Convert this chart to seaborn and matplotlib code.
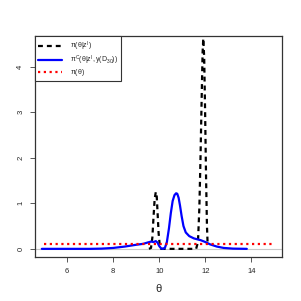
import matplotlib
matplotlib.use("Agg")
import matplotlib.pyplot as plt
import seaborn as sns

# posterior pi(theta | z^I)
theta_post = [9.55, 9.64, 9.70, 9.75, 9.80, 9.85, 9.89, 9.93, 9.97, 10.02, 10.08,
              11.60, 11.68, 11.74, 11.79, 11.84, 11.88, 11.91, 11.95, 11.99, 12.03, 12.07, 12.10]
dens_post = [0.0, 0.02, 0.25, 0.70, 1.10, 1.25, 1.15, 0.75, 0.35, 0.08, 0.0,
             0.0, 0.15, 0.9, 2.0, 3.3, 4.3, 4.62, 4.2, 3.0, 1.6, 0.5, 0.1]

# pi^C(theta | z^I, y(D_30))
theta_cal = [4.9, 6.0, 7.0, 7.5, 8.0, 8.5, 9.0, 9.3, 9.5, 9.65, 9.75, 9.85, 9.92,
             10.0, 10.08, 10.17, 10.25, 10.33, 10.42, 10.5, 10.58, 10.66, 10.73,
             10.78, 10.84, 10.9, 10.97, 11.05, 11.15, 11.3, 11.5, 11.8, 12.0,
             12.2, 12.5, 12.8, 13.2, 13.8]
dens_cal = [0.0, 0.0, 0.0, 0.005, 0.02, 0.05, 0.09, 0.11, 0.14, 0.16, 0.15, 0.17, 0.14,
            0.06, 0.01, 0.0, 0.03, 0.15, 0.45, 0.78, 1.05, 1.18, 1.22,
            1.21, 1.12, 0.95, 0.72, 0.5, 0.36, 0.28, 0.23, 0.19, 0.15,
            0.1, 0.05, 0.02, 0.005, 0.0]

# prior pi(theta): uniform on [5, 15]
theta_prior = [5.0, 15.0]
dens_prior = [0.1, 0.1]

sns.set_style("ticks")
plt.rcParams["font.family"] = ["Liberation Sans", "DejaVu Sans"]
plt.rcParams["mathtext.fontset"] = "custom"
plt.rcParams["mathtext.rm"] = "Liberation Sans"
plt.rcParams["mathtext.it"] = "Liberation Sans"

fig = plt.figure(figsize=(3.01, 3.01), dpi=100)
ax = fig.add_axes([0.116, 0.146, 0.821, 0.734])

ax.axhline(0, color="#c8c8c8", lw=0.8, zorder=0)

sns.lineplot(x=theta_post, y=dens_post, ax=ax, color="black", lw=1.6,
             linestyle=(0, (2.2, 1.8)), estimator=None, sort=False,
             label=r"$\pi(\theta|z^I)$")
sns.lineplot(x=theta_cal, y=dens_cal, ax=ax, color="#0000ff", lw=1.6,
             estimator=None, sort=False,
             label=r"$\pi^C(\theta|z^I,y(D_{30}))$")
sns.lineplot(x=theta_prior, y=dens_prior, ax=ax, color="red", lw=1.6,
             linestyle=(0, (1, 1.6)), estimator=None, sort=False,
             label=r"$\pi(\theta)$")

ax.set_xlim(4.6, 15.33)
ax.set_ylim(-0.18, 4.67)
ax.set_xticks([6, 8, 10, 12, 14])
ax.set_yticks([0, 1, 2, 3, 4])
ax.tick_params(labelsize=5.5, length=3.6, width=0.7, color="#555555", pad=4)
plt.setp(ax.get_yticklabels(), rotation=90, va="center")
ax.set_xlabel(r"$\theta$", fontsize=8, labelpad=5)
ax.set_ylabel("")
for s in ax.spines.values():
    s.set_color("#333333")
    s.set_linewidth(0.9)

leg = ax.legend(loc="upper left", fontsize=5, fancybox=False, framealpha=1,
                edgecolor="#333333", borderaxespad=0, handlelength=3.4,
                handletextpad=1.2, borderpad=0.45, labelspacing=0.1)
leg.get_frame().set_linewidth(0.8)

fig.savefig("out.png", dpi=100)
